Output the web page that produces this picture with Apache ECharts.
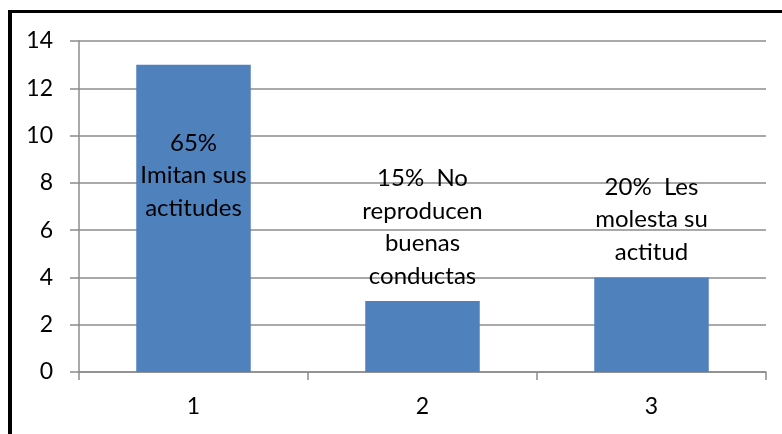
<!DOCTYPE html>
<html>
<head>
<meta charset="utf-8">
<script src="https://cdn.jsdelivr.net/npm/echarts@6/dist/echarts.min.js"></script>
<style>
html,body{margin:0;padding:0;background:#fff;}
#c{width:782px;height:434px;}
</style>
</head>
<body>
<div id="c"></div>
<script>
const categories = ['1', '2', '3'];
const values = [13, 3, 4];
const barLabels = ['65%\nImitan sus\nactitudes', '15%  No\nreproducen\nbuenas\nconductas', '20%  Les\nmolesta su\nactitud'];
const yTicks = [0, 2, 4, 6, 8, 10, 12, 14];

const FONT = 'Lato';
const chart = echarts.init(document.getElementById('c'), null, {renderer: 'canvas'});
const data = values.map((v, i) => {
  const item = {value: v};
  if (i === 0) {
    item.label = {position: 'insideTop', distance: 62};
  }
  return item;
});
chart.setOption({
  animation: false,
  backgroundColor: '#ffffff',
  grid: {left: 79, right: 16, top: 41, bottom: 62, containLabel: false},
  graphic: [
    {type: 'rect', shape: {x: 8, y: 10, width: 800, height: 3}, style: {fill: '#000'}},
    {type: 'rect', shape: {x: 8, y: 10, width: 4, height: 450}, style: {fill: '#000'}}
  ],
  xAxis: {
    type: 'category',
    data: categories,
    axisLine: {lineStyle: {color: '#8c8c8c', width: 1.5}},
    axisTick: {show: true, length: 8, lineStyle: {color: '#8c8c8c', width: 1.5}},
    axisLabel: {color: '#000', fontFamily: FONT, fontSize: 23, margin: 23}
  },
  yAxis: {
    type: 'value',
    min: yTicks[0],
    max: yTicks[yTicks.length - 1],
    interval: 2,
    axisLine: {show: true, lineStyle: {color: '#8c8c8c', width: 1.5}},
    axisTick: {show: true, length: 9, lineStyle: {color: '#8c8c8c', width: 1.5}},
    splitLine: {show: true, lineStyle: {color: '#8c8c8c', width: 1.5}},
    axisLabel: {color: '#000', fontFamily: FONT, fontSize: 23, margin: 26}
  },
  series: [{
    type: 'bar',
    data: data,
    barWidth: '50%',
    itemStyle: {color: '#4F81BD'},
    label: {
      show: true,
      position: 'top',
      distance: 9,
      color: '#000',
      fontFamily: FONT,
      fontSize: 24,
      lineHeight: 32.5,
      align: 'center',
      formatter: p => barLabels[p.dataIndex]
    }
  }]
});
</script>
</body>
</html>
